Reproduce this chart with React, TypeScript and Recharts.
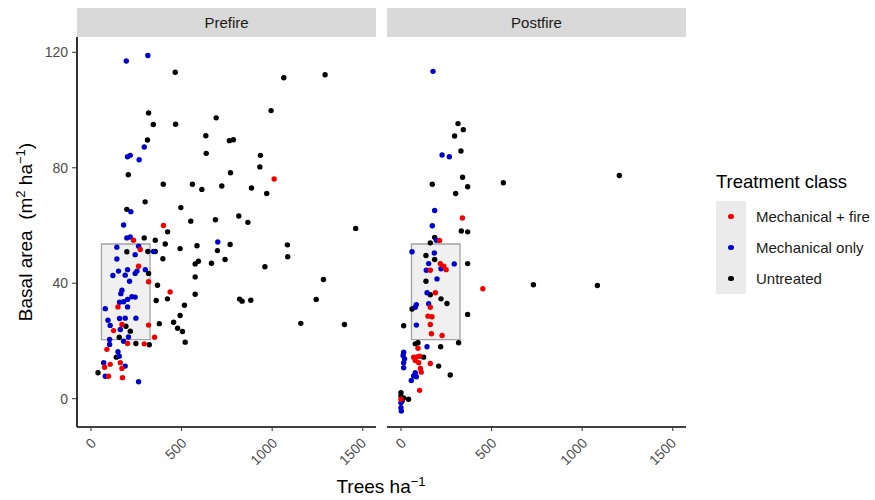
import React from 'react';
import { ScatterChart, Scatter, XAxis, YAxis, ReferenceArea } from 'recharts';

type Pt = { x: number; y: number };
const pts = (a: number[][]): Pt[] => a.map(([x, y]) => ({ x, y }));

// Prefire
const preMechFire = pts([
  [400, 60], [235, 54.9], [272, 51.7], [263, 45.9], [318, 40.5], [437, 37], [149, 31.8], [171, 25.7],
  [318, 25.5], [125, 23.6], [351, 21.3], [202, 19.1], [294, 19], [88, 17.1], [106, 11.9], [75, 10.9],
  [162, 12.5], [171, 10.5], [97, 7.8], [174, 7.3], [1011, 76.1],
]);
const preMechOnly = pts([
  [195, 117], [314, 118.9], [294, 87.2], [202, 83.8], [217, 84.3], [266, 82.8], [220, 64.8], [180, 60.2],
  [198, 55.7], [217, 56], [700, 54.3], [345, 51], [263, 52.8], [143, 52.5], [244, 49.9], [143, 48.4],
  [300, 44.7], [254, 44.2], [244, 43.4], [202, 44.7], [152, 44.2], [121, 42.7], [189, 42.8], [213, 40.7],
  [171, 37.6], [165, 36.4], [226, 35.3], [244, 35.2], [202, 34.4], [180, 33.6], [158, 33.4], [79, 31.2],
  [202, 31.8], [248, 27.9], [158, 27.8], [189, 27.9], [94, 27.2], [106, 25.4], [162, 24], [207, 21.4],
  [103, 20.5], [180, 19.9], [103, 18.8], [149, 16.3], [156, 14.7], [70, 12.5], [189, 11.3], [79, 7.8],
  [263, 5.9],
]);
const preUntreated = pts([
  [465, 113.1], [318, 99], [344, 95], [467, 95.1], [691, 97.3], [312, 89.6], [634, 91.1], [764, 89.4],
  [786, 89.7], [636, 85], [935, 84.3], [932, 80.3], [206, 77.6], [770, 78.3], [399, 74.3], [560, 74.3],
  [612, 72.5], [722, 73.7], [886, 73], [970, 71.1], [299, 68.2], [496, 66.2], [198, 65.6], [551, 61.5],
  [687, 62], [816, 63.3], [866, 61.1], [1461, 59], [423, 57.8], [294, 55.7], [355, 54.9], [410, 53.6],
  [492, 52], [585, 53], [768, 53.4], [698, 51.3], [740, 48.2], [665, 46.9], [593, 47.6], [575, 46.7],
  [575, 42.2], [575, 36.2], [516, 32.4], [492, 28.8], [456, 26.5], [478, 24.4], [505, 23.3], [520, 19.6],
  [397, 48.5], [355, 51], [314, 51], [198, 50.9], [318, 43.4], [367, 39.3], [360, 34], [422, 34.6],
  [377, 26], [193, 25.1], [217, 23.4], [156, 21.3], [248, 19.1], [322, 18.7], [140, 14.4], [39, 9],
  [1064, 111.2], [1292, 112.2], [994, 99.8], [1084, 53.3], [1086, 49.2], [960, 45.7], [1283, 41.3],
  [820, 34.5], [834, 33.8], [882, 34.1], [1243, 34.4], [1158, 26.1], [1399, 25.7],
]);

// Postfire
const postMechFire = pts([
  [213, 54.8], [217, 46.8], [236, 45.9], [162, 44.5], [249, 44.7], [339, 62.6], [452, 38.1], [190, 36.7],
  [162, 31.7], [149, 28.6], [171, 28.4], [162, 25.7], [168, 22.5], [227, 21.9], [94, 17.5], [70, 14.4],
  [89, 14.5], [103, 14.7], [79, 13.2], [98, 12.5], [162, 12.2], [107, 10.5], [112, 9.2], [103, 2.9], [0, -0.2],
]);
const postMechOnly = pts([
  [177, 113.4], [227, 84.4], [267, 83.8], [186, 65.2], [173, 59.9], [195, 54.9], [61, 50.9], [184, 50.5],
  [153, 46.8], [294, 46.7], [140, 44.5], [221, 45], [199, 41.5], [144, 36.7], [85, 32.6], [79, 31.7],
  [153, 32.9], [85, 25.5], [144, 18], [15, 16.1], [12, 15], [20, 13.8], [15, 12.5], [15, 10.7], [79, 9],
  [70, 7.9], [57, 6.3], [85, 7.6], [0, -1.4], [0, -3.1], [2, -4.3],
]);
const postUntreated = pts([
  [315, 95.3], [344, 93.2], [296, 91], [331, 85.8], [340, 76.7], [368, 73.4], [173, 74.3], [302, 71.1],
  [333, 58.1], [368, 57.8], [186, 55.9], [162, 54], [565, 74.8], [1205, 77.3], [731, 39.5], [1084, 39.2],
  [138, 49.6], [186, 48.2], [368, 46.8], [138, 40.7], [162, 36], [221, 34.6], [254, 33], [61, 31.1],
  [368, 29.2], [15, 25.3], [79, 19], [94, 19.4], [318, 19.4], [219, 18], [125, 14.4], [208, 11.3],
  [272, 8.2], [0, 2.1], [0, 0.9], [15, 0.3], [42, -0.2], [6, -0.8],
]);

const xTicks = [0, 500, 1000, 1500];
const yTicks = [0, 40, 80, 120];
const box = { x1: 58, x2: 326, y1: 20.5, y2: 53.6 };

const classes = [
  { name: 'Mechanical + fire', color: '#f20000' },
  { name: 'Mechanical only', color: '#0000cc' },
  { name: 'Untreated', color: '#000000' },
];

const FONT = '"Liberation Sans", Arial, sans-serif';

const dot = (color: string) => (p: any) => <circle cx={p.cx} cy={p.cy} r={2.7} fill={color} />;

const XTick = ({ x, y, payload }: any) => {
  const px = x + 6;
  const py = y + 11;
  return (
    <text x={px} y={py} textAnchor="end" fontSize={14} fill="#4d4d4d" fontFamily={FONT}
      transform={`rotate(-45, ${px}, ${py})`}>
      {payload.value}
    </text>
  );
};

const YTitle = ({ viewBox }: any) => {
  const cx = 32;
  const cy = viewBox.y + viewBox.height / 2;
  return (
    <text x={cx} y={cy} textAnchor="middle" fontSize={19} fill="#000" fontFamily={FONT}
      transform={`rotate(-90, ${cx}, ${cy})`} style={{ whiteSpace: 'pre' }}>
      {'Basal area  (m'}<tspan dy={-7} fontSize={13}>2</tspan>
      <tspan dy={7}>{' ha'}</tspan>
      <tspan dy={-7} fontSize={13}>−1</tspan>
      <tspan dy={7}>)</tspan>
    </text>
  );
};

const LegendBox = () => (
  <div style={{ position: 'absolute', left: 716, top: 171, fontFamily: FONT, color: '#1a1a1a' }}>
    <div style={{ fontSize: 18.5, color: '#000', marginBottom: 8, whiteSpace: 'nowrap' }}>Treatment class</div>
    {classes.map((c) => (
      <div key={c.name} style={{ display: 'flex', alignItems: 'center', height: 31 }}>
        <div style={{ width: 30, height: 31, background: '#ebebeb', display: 'flex', alignItems: 'center', justifyContent: 'center' }}>
          <div style={{ width: 5.5, height: 5.5, borderRadius: '50%', background: c.color }} />
        </div>
        <span style={{ fontSize: 15, marginLeft: 10, whiteSpace: 'nowrap' }}>{c.name}</span>
      </div>
    ))}
  </div>
);

const strip = (left: number, label: string) => (
  <div style={{
    position: 'absolute', left, top: 8, width: 299, height: 29, background: '#d9d9d9',
    textAlign: 'center', lineHeight: '29px', fontSize: 15, color: '#1a1a1a', fontFamily: FONT,
  }}>{label}</div>
);

const axisProps = {
  stroke: '#000',
  strokeWidth: 1.6,
};

export default function App() {
  return (
    <div style={{ position: 'absolute', left: 0, top: 0, width: 875, height: 500, background: '#fff' }}>
      {strip(77, 'Prefire')}
      {strip(387, 'Postfire')}
      <div style={{ position: 'absolute', left: 0, top: 0 }}>
        <ScatterChart width={377} height={500} margin={{ top: 37, right: 1, bottom: 0, left: 0 }}>
          <XAxis type="number" dataKey="x" domain={[-77, 1573]} ticks={xTicks} height={73}
            tick={<XTick />} tickSize={4} tickMargin={2} axisLine={axisProps}
            tickLine={{ stroke: '#333' }} />
          <YAxis type="number" dataKey="y" domain={[-9.8, 125.3]} ticks={yTicks} width={77}
            tickSize={5} tickMargin={4} axisLine={axisProps} tickLine={{ stroke: '#333' }}
            tick={{ fontSize: 14, fill: '#4d4d4d', fontFamily: FONT }}
            label={<YTitle />} />
          <Scatter data={preUntreated} isAnimationActive={false} shape={dot(classes[2].color)} />
          <Scatter data={preMechOnly} isAnimationActive={false} shape={dot(classes[1].color)} />
          <Scatter data={preMechFire} isAnimationActive={false} shape={dot(classes[0].color)} />
          <ReferenceArea {...box} fill="#cccccc" fillOpacity={0.3} stroke="#a3a3a3" strokeWidth={1.3} />
        </ScatterChart>
      </div>
      <div style={{ position: 'absolute', left: 387, top: 0 }}>
        <ScatterChart width={300} height={500} margin={{ top: 37, right: 1, bottom: 0, left: 0 }}>
          <XAxis type="number" dataKey="x" domain={[-77, 1573]} ticks={xTicks} height={73}
            tick={<XTick />} tickSize={4} tickMargin={2} axisLine={axisProps}
            tickLine={{ stroke: '#333' }} />
          <YAxis type="number" dataKey="y" domain={[-9.8, 125.3]} ticks={yTicks} hide />
          <Scatter data={postUntreated} isAnimationActive={false} shape={dot(classes[2].color)} />
          <Scatter data={postMechOnly} isAnimationActive={false} shape={dot(classes[1].color)} />
          <Scatter data={postMechFire} isAnimationActive={false} shape={dot(classes[0].color)} />
          <ReferenceArea {...box} fill="#cccccc" fillOpacity={0.3} stroke="#a3a3a3" strokeWidth={1.3} />
        </ScatterChart>
      </div>
      <LegendBox />
      <div style={{
        position: 'absolute', left: 281, top: 474, width: 200, textAlign: 'center',
        fontSize: 19, fontFamily: FONT, color: '#000',
      }}>
        Trees ha<sup style={{ fontSize: 13 }}>−1</sup>
      </div>
    </div>
  );
}
